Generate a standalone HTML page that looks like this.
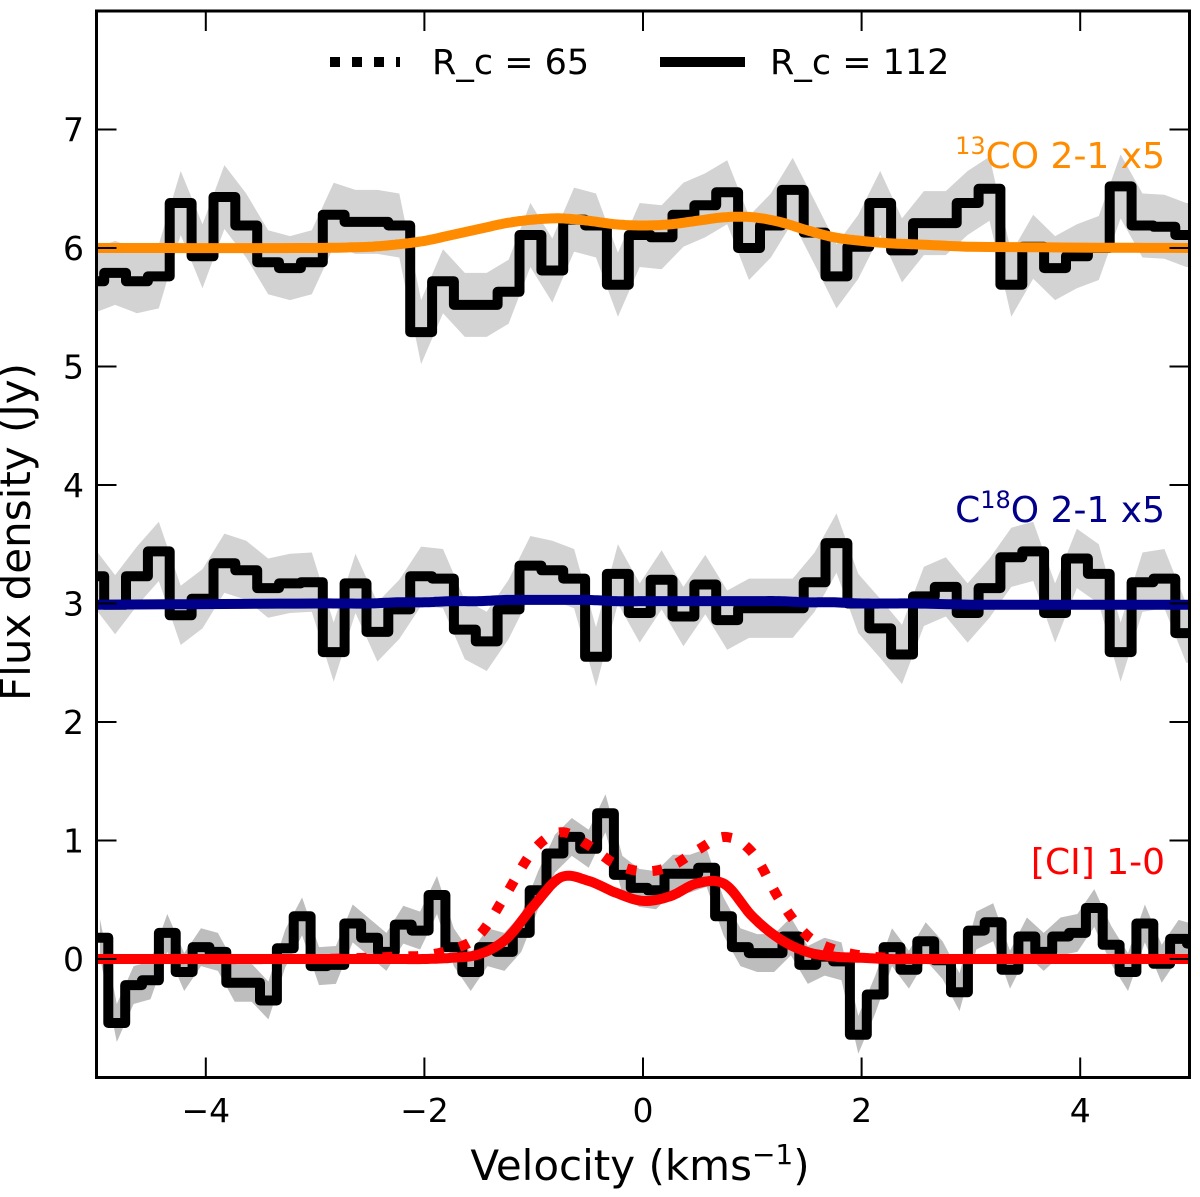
<!DOCTYPE html>
<html><head><meta charset="utf-8"><style>
html,body{margin:0;padding:0;background:#fff;}
svg{display:block;font-family:"DejaVu Sans","Liberation Sans",sans-serif;}
</style></head><body>
<svg id="chart" width="1200" height="1197" viewBox="0 0 1200 1197" xmlns="http://www.w3.org/2000/svg">
<defs><clipPath id="plotclip"><rect x="96.5" y="11" width="1093" height="1066.5"/></clipPath></defs>
<g id="bands" clip-path="url(#plotclip)"></g>
<g id="steps" clip-path="url(#plotclip)"></g>
<g id="models" clip-path="url(#plotclip)"></g>
<g id="axes"></g>
<g>
  <line x1="330" y1="62" x2="400" y2="62" stroke="#000" stroke-width="10" stroke-dasharray="10 12"/>
  <text x="432" y="74" font-size="35">R_c = 65</text>
  <line x1="660" y1="62" x2="745" y2="62" stroke="#000" stroke-width="10"/>
  <text x="770" y="74" font-size="35">R_c = 112</text>
</g>
<text x="1165" y="168" font-size="36" fill="#ff8c00" text-anchor="end"><tspan font-size="24" dy="-14">13</tspan><tspan dy="14">CO 2-1 x5</tspan></text>
<text x="1165" y="522" font-size="36" fill="#00008b" text-anchor="end">C<tspan font-size="24" dy="-14">18</tspan><tspan dy="14">O 2-1 x5</tspan></text>
<text x="1165" y="874" font-size="36" fill="#ff0000" text-anchor="end">[CI] 1-0</text>
<text x="640" y="1180" font-size="42" text-anchor="middle">Velocity (kms<tspan font-size="28" dy="-16">−1</tspan><tspan dy="16">)</tspan></text>
<text transform="translate(30,532) rotate(-90)" font-size="42" text-anchor="middle">Flux density (Jy)</text>
</svg>
<script>
// ---- data ----
const coEdge0 = -5.13, coWidth = 0.2;
const co13Flux = [5.72,5.79,5.72,5.76,6.38,5.93,6.43,6.19,5.88,5.83,5.88,6.28,6.22,6.22,6.19,5.29,5.72,5.52,5.52,5.63,6.11,5.81,6.24,6.19,5.69,6.11,6.09,6.28,6.36,6.47,6.0,6.19,6.49,6.13,5.76,6.01,6.38,5.98,6.21,6.21,6.38,6.5,5.69,6.01,5.83,5.93,6.0,6.52,6.19,6.18,6.11,6.11];
const c18oFlux = [3.23,2.99,3.23,3.44,2.90,3.04,3.34,3.28,3.13,3.17,3.18,2.59,3.17,2.76,2.95,3.23,3.21,2.78,2.68,2.95,3.32,3.28,3.21,2.55,3.25,2.92,3.2,2.89,3.16,2.86,2.96,2.96,2.96,3.18,3.51,3.0,2.79,2.57,3.06,3.14,2.92,3.13,3.39,3.44,2.92,3.38,3.25,2.59,3.18,3.21,2.75,2.75];
const ciEdge0 = -5.046, ciWidth = 0.1542;
const ciFlux = [0.18,-0.54,-0.22,-0.18,0.22,-0.11,0.10,0.06,-0.20,-0.20,-0.35,0.09,0.36,-0.06,-0.05,0.30,0.18,0.06,0.29,0.24,0.54,0.10,-0.11,0.10,0.06,0.22,0.58,0.89,1.03,0.93,1.23,0.71,0.60,0.58,0.72,0.72,0.77,0.36,0.10,0.05,0.05,0.19,-0.05,0.02,-0.02,-0.64,-0.30,0.10,-0.09,0.15,-0.01,-0.28,0.24,0.31,-0.09,0.19,0.06,0.19,0.22,0.43,0.12,-0.11,0.30,-0.04,0.17,0.13];
const coErr = 0.27, c18oErr = 0.25, ciErr = 0.16;
const modelVel =   [-5,-3,-2.5,-2.25,-2,-1.75,-1.5,-1.25,-1,-0.75,-0.5,-0.25,0,0.25,0.5,0.75,1,1.25,1.5,1.75,2,2.25,2.5,3,5];
const co13Model =  [6.0,6.0,6.01,6.03,6.06,6.11,6.16,6.21,6.24,6.25,6.23,6.2,6.19,6.2,6.23,6.26,6.26,6.22,6.15,6.09,6.06,6.04,6.03,6.01,6.0];
const c18oModel =  [2.99,3.0,3.0,3.01,3.01,3.02,3.02,3.03,3.03,3.03,3.03,3.02,3.02,3.02,3.02,3.02,3.02,3.02,3.01,3.01,3.0,3.0,3.0,2.99,2.99];
const ciModel112 = [0,0,0,0,0,0.01,0.04,0.17,0.45,0.69,0.66,0.56,0.49,0.53,0.64,0.63,0.36,0.17,0.06,0.02,0.01,0,0,0,0];
const ciModel65 =  [0,0,0.01,0.02,0.03,0.08,0.2,0.55,0.92,1.07,0.96,0.8,0.74,0.78,0.92,1.03,0.9,0.5,0.2,0.08,0.03,0.01,0,0,0];
const xTicks = [-4,-2,0,2,4];
const xTickLabels = ["−4","−2","0","2","4"];
const yTicks = [0,1,2,3,4,5,6,7];
const yTickLabels = ["0","1","2","3","4","5","6","7"];
// ---- axes ----
const X0 = 96.5, X1 = 1189.5, Y0 = 11, Y1 = 1077.5, VMIN = -5, VMAX = 5, FMIN = -1, FMAX = 8;
function X(v){ return X0 + (v - VMIN) / (VMAX - VMIN) * (X1 - X0); }
function Y(f){ return Y1 - (f - FMIN) / (FMAX - FMIN) * (Y1 - Y0); }
const NS = "http://www.w3.org/2000/svg";
function mk(tag, parent){ const e = document.createElementNS(NS, tag); parent.appendChild(e); return e; }
function stepPath(edge0, w, vals){
  let d = "";
  vals.forEach((f, i) => {
    const a = X(edge0 + i*w), b = X(edge0 + (i+1)*w), y = Y(f);
    d += (i === 0 ? "M" : "L") + a.toFixed(1) + "," + y.toFixed(1) + "L" + b.toFixed(1) + "," + y.toFixed(1);
  });
  return d;
}
function bandPath(edge0, w, vals, err){
  const up = [], lo = [];
  vals.forEach((f, i) => { const c = X(edge0 + (i+0.5)*w); up.push([c, Y(f+err)]); lo.push([c, Y(f-err)]); });
  lo.reverse();
  return "M" + up.concat(lo).map(p => p[0].toFixed(1)+","+p[1].toFixed(1)).join("L") + "Z";
}
function smoothPath(vs, fs){
  const pts = [];
  const n = vs.length;
  for (let i = 0; i < n-1; i++){
    for (let s = 0; s < 12; s++){
      const t = s/12;
      const p0 = fs[Math.max(i-1,0)], p1 = fs[i], p2 = fs[i+1], p3 = fs[Math.min(i+2,n-1)];
      const f = 0.5*((2*p1) + (-p0+p2)*t + (2*p0-5*p1+4*p2-p3)*t*t + (-p0+3*p1-3*p2+p3)*t*t*t);
      pts.push([X(vs[i] + (vs[i+1]-vs[i])*t), Y(f)]);
    }
  }
  pts.push([X(vs[n-1]), Y(fs[n-1])]);
  return "M" + pts.map(p => p[0].toFixed(1)+","+p[1].toFixed(1)).join("L");
}
const bands = document.getElementById("bands"), steps = document.getElementById("steps"), models = document.getElementById("models"), axes = document.getElementById("axes");
[[co13Flux, coEdge0, coWidth, coErr, "#d3d3d3", "band-13co"], [c18oFlux, coEdge0, coWidth, c18oErr, "#d3d3d3", "band-c18o"], [ciFlux, ciEdge0, ciWidth, ciErr, "#bdbdbd", "band-ci"]].forEach(s => {
  const p = mk("path", bands);
  p.setAttribute("d", bandPath(s[1], s[2], s[0], s[3]));
  p.setAttribute("fill", s[4]);
  
  
});
[[co13Flux, coEdge0, coWidth, "spectrum-13co"], [c18oFlux, coEdge0, coWidth, "spectrum-c18o"], [ciFlux, ciEdge0, ciWidth, "spectrum-ci"]].forEach(s => {
  const p = mk("path", steps);
  p.setAttribute("d", stepPath(s[1], s[2], s[0]));
  p.setAttribute("fill", "none"); p.setAttribute("stroke", "#000"); p.setAttribute("stroke-width", "10"); p.setAttribute("stroke-linejoin", "round");
  
  
});
[[co13Model, "#ff8c00", null, "model-13co"], [c18oModel, "#00008b", null, "model-c18o"], [ciModel112, "#ff0000", null, "model-ci-rc112"], [ciModel65, "#ff0000", "10 16", "model-ci-rc65"]].forEach(s => {
  const p = mk("path", models);
  p.setAttribute("d", smoothPath(modelVel, s[0]));
  p.setAttribute("fill", "none"); p.setAttribute("stroke", s[1]); p.setAttribute("stroke-width", "10");
  if (s[2]) p.setAttribute("stroke-dasharray", s[2]);
  
  
});
const frame = mk("rect", axes);
frame.setAttribute("x", X0); frame.setAttribute("y", Y0); frame.setAttribute("width", X1-X0); frame.setAttribute("height", Y1-Y0);
frame.setAttribute("fill", "none"); frame.setAttribute("stroke", "#000"); frame.setAttribute("stroke-width", "3");


xTicks.forEach((v, i) => {
  [[Y1, Y1-20], [Y0, Y0+20]].forEach(yy => {
    const t = mk("line", axes);
    t.setAttribute("x1", X(v)); t.setAttribute("x2", X(v)); t.setAttribute("y1", yy[0]); t.setAttribute("y2", yy[1]);
    t.setAttribute("stroke", "#000"); t.setAttribute("stroke-width", "2");
    
    
  });
  const l = mk("text", axes);
  l.setAttribute("x", X(v)); l.setAttribute("y", 1122); l.setAttribute("font-size", "33"); l.setAttribute("text-anchor", "middle");
  l.textContent = xTickLabels[i];
  
  
});
yTicks.forEach((f, i) => {
  [[X0, X0+20], [X1, X1-20]].forEach(xx => {
    const t = mk("line", axes);
    t.setAttribute("y1", Y(f)); t.setAttribute("y2", Y(f)); t.setAttribute("x1", xx[0]); t.setAttribute("x2", xx[1]);
    t.setAttribute("stroke", "#000"); t.setAttribute("stroke-width", "2");
    
    
  });
  const l = mk("text", axes);
  l.setAttribute("x", 84); l.setAttribute("y", Y(f) + 12); l.setAttribute("font-size", "33"); l.setAttribute("text-anchor", "end");
  l.textContent = yTickLabels[i];
  
  
});
</script>
</body></html>
